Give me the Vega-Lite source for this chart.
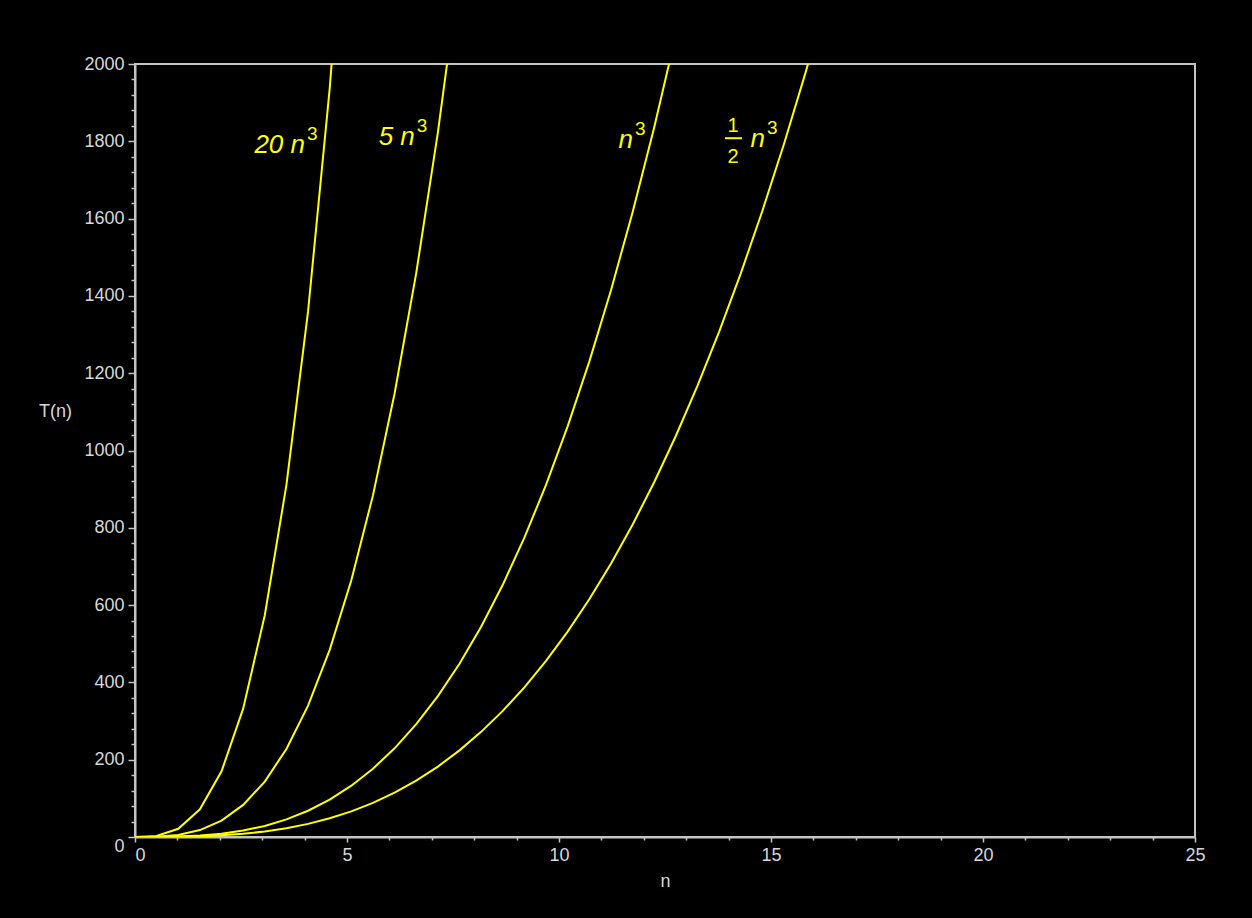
{
  "$schema": "https://vega.github.io/schema/vega-lite/v6.json",
  "width": 1060,
  "height": 773,
  "autosize": {"type": "none"},
  "padding": {"left": 135, "top": 64, "right": 57, "bottom": 81},
  "background": "#000000",
  "config": {
    "view": {"stroke": "#c4c4c4", "strokeWidth": 2},
    "font": "Liberation Sans",
    "axis": {
      "grid": false,
      "domainColor": "#c4c4c4",
      "domainWidth": 2,
      "tickColor": "#c4c4c4",
      "tickWidth": 1.5,
      "labelColor": "#d8d8d8",
      "labelFont": "Liberation Sans",
      "labelFontSize": 18,
      "labelOverlap": false,
      "labelFlush": false,
      "titleColor": "#d8d8d8",
      "titleFont": "Liberation Sans",
      "titleFontSize": 18,
      "titleFontWeight": "normal"
    }
  },
  "datasets": {
    "curves": [
      {"f": "20n3", "n": 0, "T": 0},
      {"f": "20n3", "n": 0.5102, "T": 2.66},
      {"f": "20n3", "n": 1.0204, "T": 21.25},
      {"f": "20n3", "n": 1.5306, "T": 71.72},
      {"f": "20n3", "n": 2.0408, "T": 170.0},
      {"f": "20n3", "n": 2.551, "T": 332.0},
      {"f": "20n3", "n": 3.0612, "T": 573.7},
      {"f": "20n3", "n": 3.5714, "T": 911.1},
      {"f": "20n3", "n": 4.0816, "T": 1359.9},
      {"f": "20n3", "n": 4.5918, "T": 1936.3},
      {"f": "20n3", "n": 5.102, "T": 2656.1},
      {"f": "5n3", "n": 0, "T": 0},
      {"f": "5n3", "n": 0.5102, "T": 0.66},
      {"f": "5n3", "n": 1.0204, "T": 5.31},
      {"f": "5n3", "n": 1.5306, "T": 17.93},
      {"f": "5n3", "n": 2.0408, "T": 42.5},
      {"f": "5n3", "n": 2.551, "T": 83.0},
      {"f": "5n3", "n": 3.0612, "T": 143.43},
      {"f": "5n3", "n": 3.5714, "T": 227.77},
      {"f": "5n3", "n": 4.0816, "T": 339.99},
      {"f": "5n3", "n": 4.5918, "T": 484.08},
      {"f": "5n3", "n": 5.102, "T": 664.04},
      {"f": "5n3", "n": 5.6122, "T": 883.84},
      {"f": "5n3", "n": 6.1224, "T": 1147.46},
      {"f": "5n3", "n": 6.6327, "T": 1458.95},
      {"f": "5n3", "n": 7.1429, "T": 1822.2},
      {"f": "5n3", "n": 7.6531, "T": 2241.2},
      {"f": "n3", "n": 0, "T": 0},
      {"f": "n3", "n": 0.5102, "T": 0.13},
      {"f": "n3", "n": 1.0204, "T": 1.06},
      {"f": "n3", "n": 1.5306, "T": 3.59},
      {"f": "n3", "n": 2.0408, "T": 8.5},
      {"f": "n3", "n": 2.551, "T": 16.6},
      {"f": "n3", "n": 3.0612, "T": 28.69},
      {"f": "n3", "n": 3.5714, "T": 45.55},
      {"f": "n3", "n": 4.0816, "T": 68.0},
      {"f": "n3", "n": 4.5918, "T": 96.82},
      {"f": "n3", "n": 5.102, "T": 132.81},
      {"f": "n3", "n": 5.6122, "T": 176.77},
      {"f": "n3", "n": 6.1224, "T": 229.49},
      {"f": "n3", "n": 6.6327, "T": 291.79},
      {"f": "n3", "n": 7.1429, "T": 364.44},
      {"f": "n3", "n": 7.6531, "T": 448.24},
      {"f": "n3", "n": 8.1633, "T": 543.99},
      {"f": "n3", "n": 8.6735, "T": 652.5},
      {"f": "n3", "n": 9.1837, "T": 774.56},
      {"f": "n3", "n": 9.6939, "T": 910.95},
      {"f": "n3", "n": 10.2041, "T": 1062.49},
      {"f": "n3", "n": 10.7143, "T": 1229.96},
      {"f": "n3", "n": 11.2245, "T": 1414.17},
      {"f": "n3", "n": 11.7347, "T": 1615.91},
      {"f": "n3", "n": 12.2449, "T": 1835.97},
      {"f": "n3", "n": 12.7551, "T": 2075.17},
      {"f": "half_n3", "n": 0, "T": 0},
      {"f": "half_n3", "n": 0.5102, "T": 0.07},
      {"f": "half_n3", "n": 1.0204, "T": 0.53},
      {"f": "half_n3", "n": 1.5306, "T": 1.79},
      {"f": "half_n3", "n": 2.0408, "T": 4.25},
      {"f": "half_n3", "n": 2.551, "T": 8.3},
      {"f": "half_n3", "n": 3.0612, "T": 14.34},
      {"f": "half_n3", "n": 3.5714, "T": 22.78},
      {"f": "half_n3", "n": 4.0816, "T": 34.0},
      {"f": "half_n3", "n": 4.5918, "T": 48.41},
      {"f": "half_n3", "n": 5.102, "T": 66.4},
      {"f": "half_n3", "n": 5.6122, "T": 88.38},
      {"f": "half_n3", "n": 6.1224, "T": 114.75},
      {"f": "half_n3", "n": 6.6327, "T": 145.9},
      {"f": "half_n3", "n": 7.1429, "T": 182.22},
      {"f": "half_n3", "n": 7.6531, "T": 224.12},
      {"f": "half_n3", "n": 8.1633, "T": 272.0},
      {"f": "half_n3", "n": 8.6735, "T": 326.25},
      {"f": "half_n3", "n": 9.1837, "T": 387.28},
      {"f": "half_n3", "n": 9.6939, "T": 455.48},
      {"f": "half_n3", "n": 10.2041, "T": 531.25},
      {"f": "half_n3", "n": 10.7143, "T": 614.98},
      {"f": "half_n3", "n": 11.2245, "T": 707.09},
      {"f": "half_n3", "n": 11.7347, "T": 807.96},
      {"f": "half_n3", "n": 12.2449, "T": 917.99},
      {"f": "half_n3", "n": 12.7551, "T": 1037.59},
      {"f": "half_n3", "n": 13.2653, "T": 1167.14},
      {"f": "half_n3", "n": 13.7755, "T": 1307.04},
      {"f": "half_n3", "n": 14.2857, "T": 1457.73},
      {"f": "half_n3", "n": 14.7959, "T": 1619.55},
      {"f": "half_n3", "n": 15.3061, "T": 1792.93},
      {"f": "half_n3", "n": 15.8163, "T": 1978.27},
      {"f": "half_n3", "n": 16.3265, "T": 2175.97}
    ],
    "labels": [
      {"text": "20 n", "n": 4.01, "T": 1770},
      {"text": "5 n", "n": 6.6, "T": 1790},
      {"text": "n", "n": 11.745, "T": 1783},
      {"text": "n", "n": 14.86, "T": 1785}
    ],
    "fraction": [
      {"digit": "1", "n": 14.104, "T": 1824},
      {"digit": "2", "n": 14.104, "T": 1744}
    ],
    "fractionBar": [
      {"n": 13.915, "n2": 14.316, "T": 1808}
    ]
  },
  "encoding": {
    "x": {
      "field": "n",
      "type": "quantitative",
      "scale": {"domain": [0, 25], "nice": false, "zero": false},
      "axis": {
        "title": "n",
        "values": [0, 1, 2, 3, 4, 5, 6, 7, 8, 9, 10, 11, 12, 13, 14, 15, 16, 17, 18, 19, 20, 21, 22, 23, 24, 25],
        "labelExpr": "datum.value % 5 === 0 ? datum.label : ''",
        "tickSize": {"condition": {"test": "datum.value % 5 === 0", "value": 5}, "value": 3},
        "labelAlign": {"condition": {"test": "datum.value === 0", "value": "left"}, "value": "center"},
        "labelPadding": 4,
        "titleBaseline": "middle",
        "titleY": 44
      }
    },
    "y": {
      "field": "T",
      "type": "quantitative",
      "scale": {"domain": [0, 2000], "nice": false},
      "axis": {
        "title": "T(n)",
        "format": "d",
        "values": [0, 40, 80, 120, 160, 200, 240, 280, 320, 360, 400, 440, 480, 520, 560, 600, 640, 680, 720, 760, 800, 840, 880, 920, 960, 1000, 1040, 1080, 1120, 1160, 1200, 1240, 1280, 1320, 1360, 1400, 1440, 1480, 1520, 1560, 1600, 1640, 1680, 1720, 1760, 1800, 1840, 1880, 1920, 1960, 2000],
        "labelExpr": "datum.value % 200 === 0 ? datum.label : ''",
        "tickSize": {"condition": {"test": "datum.value % 200 === 0", "value": 7}, "value": 4},
        "labelBaseline": {"condition": {"test": "datum.value === 0", "value": "top"}, "value": "middle"},
        "labelPadding": 4,
        "titleAngle": 0,
        "titleAlign": "center",
        "titleBaseline": "middle",
        "titleX": -80,
        "titleY": 347
      }
    }
  },
  "layer": [
    {
      "data": {"name": "curves"},
      "mark": {"type": "line", "color": "#ffff00", "strokeWidth": 2, "clip": true, "interpolate": "linear"},
      "encoding": {"detail": {"field": "f", "type": "nominal"}}
    },
    {
      "data": {"name": "labels"},
      "mark": {"type": "text", "color": "#ffff00", "fontSize": 26, "fontStyle": "italic", "align": "right", "baseline": "alphabetic", "font": "Liberation Sans"},
      "encoding": {"text": {"field": "text"}}
    },
    {
      "data": {"name": "labels"},
      "mark": {"type": "text", "color": "#ffff00", "fontSize": 19, "align": "left", "baseline": "alphabetic", "dx": 2, "dy": -13, "font": "Liberation Sans", "text": "3"}
    },
    {
      "data": {"name": "fraction"},
      "mark": {"type": "text", "color": "#ffff00", "fontSize": 20, "align": "center", "baseline": "alphabetic", "font": "Liberation Sans"},
      "encoding": {"text": {"field": "digit"}}
    },
    {
      "data": {"name": "fractionBar"},
      "mark": {"type": "rule", "color": "#ffff00", "strokeWidth": 2},
      "encoding": {
        "x2": {"field": "n2"}
      }
    }
  ]
}
